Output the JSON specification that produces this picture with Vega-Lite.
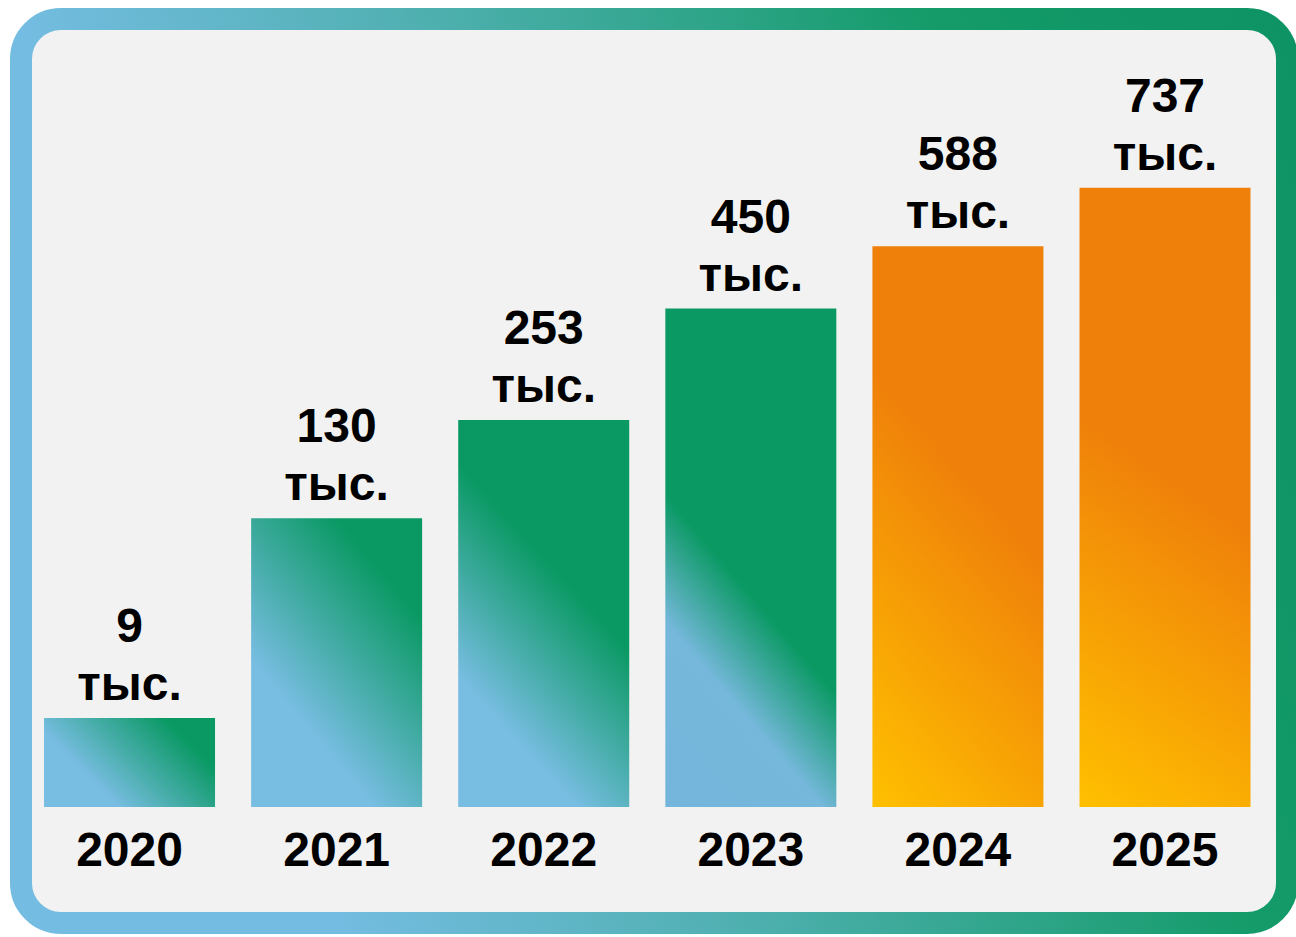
{
  "$schema": "https://vega.github.io/schema/vega-lite/v6.json",
  "width": 1266,
  "height": 904,
  "autosize": {"type": "none"},
  "padding": {"left": 21, "top": 19, "right": 9, "bottom": 14},
  "background": "#ffffff",
  "view": {
    "fill": "#f2f2f2",
    "stroke": {
      "gradient": "linear",
      "x1": 0, "y1": 0, "x2": 1, "y2": -0.25,
      "stops": [
        {"offset": 0, "color": "#74bce1"},
        {"offset": 0.3, "color": "#4fb0b0"},
        {"offset": 0.68, "color": "#149b69"},
        {"offset": 1, "color": "#0c9164"}
      ]
    },
    "strokeWidth": 22,
    "cornerRadius": 40
  },
  "data": {
    "values": [
      {"year": "2020", "value": 9},
      {"year": "2021", "value": 130},
      {"year": "2022", "value": 253},
      {"year": "2023", "value": 450},
      {"year": "2024", "value": 588},
      {"year": "2025", "value": 737}
    ]
  },
  "encoding": {
    "x": {
      "field": "year",
      "type": "ordinal",
      "axis": null,
      "scale": {"paddingInner": 0.1743, "paddingOuter": 0.1437, "align": 0.387}
    }
  },
  "layer": [
    {
      "mark": {"type": "bar"},
      "encoding": {
        "y": {
          "field": "value",
          "type": "quantitative",
          "axis": null,
          "scale": {"type": "pow", "exponent": 0.44, "domain": [-16.36, 1274], "zero": false, "nice": false}
        },
        "y2": {"datum": 0},
        "color": {
          "condition": [
            {
              "test": "datum.year === '2020'",
              "value": {
                "gradient": "linear", "x1": 0, "y1": 1, "x2": 1.196, "y2": 0.377,
                "stops": [
                  {"offset": 0, "color": "#78bde2"},
                  {"offset": 0.285, "color": "#78bde2"},
                  {"offset": 0.808, "color": "#0a9963"},
                  {"offset": 1, "color": "#0a9963"}
                ]
              }
            },
            {
              "test": "datum.year === '2021'",
              "value": {
                "gradient": "linear", "x1": 0, "y1": 1, "x2": 0.802, "y2": -0.139,
                "stops": [
                  {"offset": 0, "color": "#78bde2"},
                  {"offset": 0.299, "color": "#78bde2"},
                  {"offset": 0.794, "color": "#0a9963"},
                  {"offset": 1, "color": "#0a9963"}
                ]
              }
            },
            {
              "test": "datum.year === '2022'",
              "value": {
                "gradient": "linear", "x1": 0, "y1": 1, "x2": 0.58, "y2": -0.203,
                "stops": [
                  {"offset": 0, "color": "#78bde2"},
                  {"offset": 0.227, "color": "#78bde2"},
                  {"offset": 0.598, "color": "#0a9963"},
                  {"offset": 1, "color": "#0a9963"}
                ]
              }
            },
            {
              "test": "datum.year === '2023'",
              "value": {
                "gradient": "linear", "x1": 0, "y1": 1, "x2": 0.486, "y2": -0.207,
                "stops": [
                  {"offset": 0, "color": "#74b6db"},
                  {"offset": 0.263, "color": "#76b8dc"},
                  {"offset": 0.448, "color": "#0a9963"},
                  {"offset": 1, "color": "#0a9963"}
                ]
              }
            },
            {
              "test": "datum.year === '2024'",
              "value": {
                "gradient": "linear", "x1": 0, "y1": 1, "x2": 0.405, "y2": -0.201,
                "stops": [
                  {"offset": 0, "color": "#ffc000"},
                  {"offset": 0.585, "color": "#ef800a"},
                  {"offset": 1, "color": "#ef800a"}
                ]
              }
            }
          ],
          "value": {
            "gradient": "linear", "x1": 0, "y1": 1, "x2": 0.218, "y2": -0.149,
            "stops": [
              {"offset": 0, "color": "#ffc000"},
              {"offset": 0.536, "color": "#ef800a"},
              {"offset": 1, "color": "#ef800a"}
            ]
          }
        }
      }
    },
    {
      "mark": {"type": "text", "font": "Liberation Sans", "fontSize": 48, "fontWeight": "bold", "color": "#000000", "baseline": "alphabetic", "align": "center", "dy": -76},
      "encoding": {
        "y": {"field": "value", "type": "quantitative"},
        "text": {"field": "value", "type": "quantitative"}
      }
    },
    {
      "mark": {"type": "text", "text": "тыс.", "font": "Liberation Sans", "fontSize": 48, "fontWeight": "bold", "color": "#000000", "baseline": "alphabetic", "align": "center", "dy": -18},
      "encoding": {
        "y": {"field": "value", "type": "quantitative"}
      }
    },
    {
      "mark": {"type": "text", "font": "Liberation Sans", "fontSize": 48, "fontWeight": "bold", "color": "#000000", "baseline": "alphabetic", "align": "center", "dy": 59},
      "encoding": {
        "y": {"datum": 0, "type": "quantitative"},
        "text": {"field": "year", "type": "nominal"}
      }
    }
  ]
}
